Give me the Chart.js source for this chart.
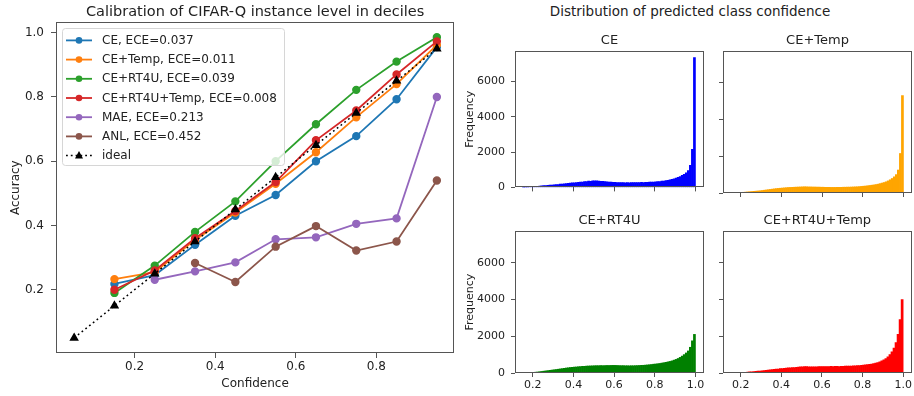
<!DOCTYPE html>
<html>
<head>
<meta charset="utf-8">
<script src="https://cdn.jsdelivr.net/npm/chart.js@4"></script>
<style>
  body { margin: 0; width: 914px; height: 396px; background: #fff; position: relative; overflow: hidden; font-family: "DejaVu Sans", sans-serif; }
  .box { position: absolute; }
  #distTitle { position: absolute; left: 540px; top: 3px; width: 300px; text-align: center; font-size: 13.5px; line-height: 17px; color: #222; }
</style>
</head>
<body>
<div class="box" style="left:0;top:0;width:460px;height:396px"><canvas id="calChart"></canvas></div>
<div id="distTitle">Distribution of predicted class confidence</div>
<div class="box" style="left:460px;top:30px;width:250px;height:170px"><canvas id="histCE"></canvas></div>
<div class="box" style="left:718px;top:30px;width:196px;height:170px"><canvas id="histTemp"></canvas></div>
<div class="box" style="left:460px;top:210px;width:250px;height:186px"><canvas id="histRT4U"></canvas></div>
<div class="box" style="left:718px;top:210px;width:196px;height:186px"><canvas id="histRT4UTemp"></canvas></div>
<script>
Chart.defaults.font.family = '"DejaVu Sans", sans-serif';
Chart.defaults.color = '#222';

// calibration curve: bin centres (deciles) and accuracy per method
const confBins = [0.05, 0.15, 0.25, 0.35, 0.45, 0.55, 0.65, 0.75, 0.85, 0.95];
const ceAcc       = [null, 0.218, 0.245, 0.34, 0.43, 0.495, 0.60, 0.678, 0.793, 0.955];
const ceTempAcc   = [null, 0.233, 0.255, 0.355, 0.44, 0.53, 0.628, 0.737, 0.84, 0.962];
const rt4uAcc     = [null, 0.19, 0.275, 0.38, 0.475, 0.60, 0.715, 0.822, 0.91, 0.986];
const rt4uTempAcc = [null, 0.20, 0.26, 0.36, 0.445, 0.535, 0.665, 0.758, 0.87, 0.973];
const maeAcc      = [null, null, 0.231, 0.257, 0.285, 0.357, 0.363, 0.405, 0.422, 0.80];
const anlAcc      = [null, null, null, 0.283, 0.224, 0.334, 0.398, 0.322, 0.35, 0.54];
const idealAcc    = [0.05, 0.15, 0.25, 0.35, 0.45, 0.55, 0.65, 0.75, 0.85, 0.95];
const calXTicks = [0.2, 0.4, 0.6, 0.8];
const calYTicks = [0.2, 0.4, 0.6, 0.8, 1.0];

// confidence histograms (bin width 0.01)
const histBinCenters = [
  0.155, 0.165, 0.175, 0.185, 0.195,
  0.205, 0.215, 0.225, 0.235, 0.245, 0.255, 0.265, 0.275, 0.285, 0.295,
  0.305, 0.315, 0.325, 0.335, 0.345, 0.355, 0.365, 0.375, 0.385, 0.395,
  0.405, 0.415, 0.425, 0.435, 0.445, 0.455, 0.465, 0.475, 0.485, 0.495,
  0.505, 0.515, 0.525, 0.535, 0.545, 0.555, 0.565, 0.575, 0.585, 0.595,
  0.605, 0.615, 0.625, 0.635, 0.645, 0.655, 0.665, 0.675, 0.685, 0.695,
  0.705, 0.715, 0.725, 0.735, 0.745, 0.755, 0.765, 0.775, 0.785, 0.795,
  0.805, 0.815, 0.825, 0.835, 0.845, 0.855, 0.865, 0.875, 0.885, 0.895,
  0.905, 0.915, 0.925, 0.935, 0.945, 0.955, 0.965, 0.975, 0.985, 0.995
];
const ceCounts = [
  5, 10, 15, 25, 35,
  45, 55, 62, 78, 85, 97, 105, 118, 125, 137,
  145, 158, 165, 182, 190, 203, 215, 228, 240, 252,
  260, 276, 282, 300, 306, 326, 330, 352, 346, 372,
  378, 370, 362, 348, 342, 328, 322, 306, 302, 292,
  288, 278, 280, 268, 274, 262, 272, 264, 270, 268,
  272, 276, 272, 282, 278, 288, 290, 296, 300, 308,
  315, 326, 334, 352, 364, 382, 398, 428, 452, 492,
  530, 572, 618, 682, 738, 822, 950, 1250, 2150, 7350
];
const ceTempCounts = [
  3, 6, 10, 15, 22,
  30, 40, 50, 60, 70, 80, 90, 100, 110, 120,
  135, 150, 165, 180, 195, 210, 225, 240, 250, 260,
  270, 280, 290, 300, 305, 310, 315, 320, 325, 330,
  335, 340, 335, 330, 330, 325, 325, 320, 320, 315,
  315, 310, 310, 310, 305, 305, 305, 310, 310, 310,
  315, 315, 320, 320, 325, 330, 335, 340, 350, 360,
  370, 380, 395, 410, 425, 440, 460, 480, 510, 540,
  570, 610, 660, 720, 790, 880, 1000, 1250, 2150, 5300
];
const rt4uCounts = [
  3, 6, 10, 16, 24,
  35, 45, 55, 70, 85, 100, 115, 130, 145, 160,
  175, 190, 205, 222, 238, 255, 272, 284, 300, 310,
  322, 328, 342, 350, 362, 364, 376, 380, 386, 390,
  396, 400, 398, 406, 400, 404, 410, 408, 412, 415,
  414, 410, 404, 400, 402, 394, 396, 390, 396, 394,
  400, 404, 410, 416, 420, 430, 440, 452, 464, 480,
  490, 505, 520, 540, 560, 580, 605, 630, 660, 700,
  740, 790, 850, 920, 1000, 1090, 1200, 1400, 1750, 2100
];
const rt4uTempCounts = [
  2, 4, 8, 12, 18,
  25, 32, 40, 50, 60, 70, 80, 90, 100, 110,
  120, 130, 145, 160, 170, 185, 200, 210, 220, 235,
  245, 255, 265, 275, 285, 295, 300, 310, 320, 330,
  340, 345, 345, 340, 340, 335, 335, 340, 345, 350,
  355, 355, 350, 355, 360, 355, 360, 360, 355, 360,
  365, 370, 370, 375, 380, 385, 395, 400, 410, 420,
  430, 440, 455, 470, 490, 510, 540, 570, 610, 660,
  720, 790, 880, 1000, 1150, 1350, 1650, 2100, 2900, 4000
];
const histXTicks = [0.2, 0.4, 0.6, 0.8, 1.0];
const histYTicks = [0, 2000, 4000, 6000];

const spineColor = '#555';

// matplotlib-like box around the plotting area
const framePlugin = {
  id: 'frame',
  afterDraw(chart) {
    const { ctx, chartArea: a } = chart;
    ctx.save();
    ctx.strokeStyle = spineColor;
    ctx.lineWidth = 1;
    const l = Math.round(a.left) + 0.5, t = Math.round(a.top) + 0.5;
    const r = Math.round(a.right) - 0.5, b = Math.round(a.bottom) - 0.5;
    ctx.strokeRect(l, t, r - l, b - t);
    ctx.restore();
  }
};

function drawMarker(ctx, style, x, y, r) {
  ctx.beginPath();
  if (style === 'triangle') {
    ctx.moveTo(x, y - r * 1.15);
    ctx.lineTo(x + r, y + r * 0.75);
    ctx.lineTo(x - r, y + r * 0.75);
    ctx.closePath();
  } else {
    ctx.arc(x, y, r, 0, Math.PI * 2);
  }
  ctx.fill();
}

// legend drawn inside the axes, upper left, like matplotlib
const mplLegend = {
  id: 'mplLegend',
  afterDatasetsDraw(chart) {
    const { ctx, chartArea: a } = chart;
    const x0 = a.left + 6, y0 = a.top + 6, w = 222, h = 137;
    ctx.save();
    ctx.beginPath();
    ctx.roundRect(Math.round(x0) + 0.5, Math.round(y0) + 0.5, w, h, 3);
    ctx.fillStyle = 'rgba(255,255,255,0.8)';
    ctx.fill();
    ctx.strokeStyle = '#d6d6d6';
    ctx.lineWidth = 1;
    ctx.stroke();
    chart.data.datasets.forEach(function(ds, i) {
      const y = y0 + 12 + i * 19.2;
      ctx.strokeStyle = ds.borderColor;
      ctx.lineWidth = ds.borderWidth;
      ctx.setLineDash(ds.borderDash || []);
      ctx.beginPath();
      ctx.moveTo(x0 + 4, y);
      ctx.lineTo(x0 + 30, y);
      ctx.stroke();
      ctx.setLineDash([]);
      ctx.fillStyle = ds.borderColor;
      drawMarker(ctx, ds.pointStyle, x0 + 17, y, ds.pointRadius);
      ctx.fillStyle = '#222';
      ctx.font = '12px "DejaVu Sans"';
      ctx.textBaseline = 'middle';
      ctx.fillText(ds.label, x0 + 40, y + 0.5);
    });
    ctx.restore();
  }
};

function series(label, values, color, order, extra) {
  return Object.assign({
    label: label,
    data: confBins.map((x, i) => ({ x: x, y: values[i] })),
    borderColor: color,
    backgroundColor: color,
    pointBackgroundColor: color,
    pointBorderColor: color,
    borderWidth: 1.8,
    pointRadius: 3.3,
    pointStyle: 'circle',
    order: order
  }, extra || {});
}

function tickGrid() {
  return { display: true, drawOnChartArea: false, drawTicks: true, tickLength: 5, color: spineColor };
}

new Chart(document.getElementById('calChart'), {
  type: 'line',
  data: {
    datasets: [
      series('CE, ECE=0.037', ceAcc, '#1f77b4', 6),
      series('CE+Temp, ECE=0.011', ceTempAcc, '#ff7f0e', 5),
      series('CE+RT4U, ECE=0.039', rt4uAcc, '#2ca02c', 4),
      series('CE+RT4U+Temp, ECE=0.008', rt4uTempAcc, '#d62728', 3),
      series('MAE, ECE=0.213', maeAcc, '#9467bd', 2),
      series('ANL, ECE=0.452', anlAcc, '#8c564b', 1),
      series('ideal', idealAcc, '#000000', 0, { borderDash: [1.8, 3], borderWidth: 1.5, pointStyle: 'triangle', pointRadius: 4 })
    ]
  },
  options: {
    animation: false,
    responsive: true,
    maintainAspectRatio: false,
    layout: { padding: { right: 5 } },
    plugins: {
      legend: { display: false },
      tooltip: { enabled: false },
      title: {
        display: true,
        fullSize: false,
        text: 'Calibration of CIFAR-Q instance level in deciles',
        font: { size: 14.5, weight: 'normal' },
        padding: { top: 4, bottom: 1 }
      }
    },
    scales: {
      x: {
        type: 'linear', min: 0.005, max: 0.993,
        afterBuildTicks: axis => { axis.ticks = calXTicks.map(v => ({ value: v })); },
        ticks: { font: { size: 12 }, padding: 2, callback: v => v.toFixed(1) },
        grid: tickGrid(), border: { display: false },
        title: { display: true, text: 'Confidence', font: { size: 12 }, padding: { top: 0, bottom: 5 } },
        afterFit: axis => { axis.height = 43; }
      },
      y: {
        min: 0.003, max: 1.032,
        afterBuildTicks: axis => { axis.ticks = calYTicks.map(v => ({ value: v })); },
        ticks: { font: { size: 12 }, padding: 7, callback: v => v.toFixed(1) },
        grid: tickGrid(), border: { display: false },
        title: { display: true, text: 'Accuracy', font: { size: 12 }, padding: { top: 9, bottom: 0 } },
        afterFit: axis => { axis.width = 56; }
      }
    }
  },
  plugins: [mplLegend, framePlugin]
});

function histChart(id, title, counts, color, showY, showX) {
  new Chart(document.getElementById(id), {
    type: 'bar',
    data: {
      datasets: [{
        data: histBinCenters.map((x, i) => ({ x: x, y: counts[i] })),
        backgroundColor: color,
        borderWidth: 0,
        barPercentage: 1,
        categoryPercentage: 1,
        grouped: false
      }]
    },
    options: {
      animation: false,
      responsive: true,
      maintainAspectRatio: false,
      layout: { padding: { right: showY ? 6 : 2 } },
      plugins: {
        legend: { display: false },
        tooltip: { enabled: false },
        title: { display: true, fullSize: false, text: title, font: { size: 13, weight: 'normal' }, padding: { top: 2.5, bottom: 3 } }
      },
      scales: {
        x: {
          type: 'linear', min: 0.113, max: 1.042, offset: false,
          afterBuildTicks: axis => { axis.ticks = histXTicks.map(v => ({ value: v })); },
          ticks: { display: showX, font: { size: 11 }, padding: 2, callback: v => v.toFixed(1) },
          grid: { display: true, offset: false, drawOnChartArea: false, drawTicks: true, tickLength: 4, color: spineColor },
          border: { display: false },
          afterFit: axis => { axis.height = showX ? 23 : 7; }
        },
        y: {
          min: 0, max: 7720,
          afterBuildTicks: axis => { axis.ticks = histYTicks.map(v => ({ value: v })); },
          ticks: { display: showY, font: { size: 11 }, padding: 6, callback: v => String(v) },
          grid: { display: true, drawOnChartArea: false, drawTicks: true, tickLength: 4, color: spineColor },
          border: { display: false },
          title: { display: showY, text: 'Frequency', font: { size: 11 }, padding: { top: 4, bottom: 0 } },
          afterFit: axis => { axis.width = showY ? 55 : 5; }
        }
      }
    },
    plugins: [framePlugin]
  });
}

histChart('histCE', 'CE', ceCounts, 'blue', true, false);
histChart('histTemp', 'CE+Temp', ceTempCounts, 'orange', false, false);
histChart('histRT4U', 'CE+RT4U', rt4uCounts, 'green', true, true);
histChart('histRT4UTemp', 'CE+RT4U+Temp', rt4uTempCounts, 'red', false, true);
</script>
</body>
</html>
